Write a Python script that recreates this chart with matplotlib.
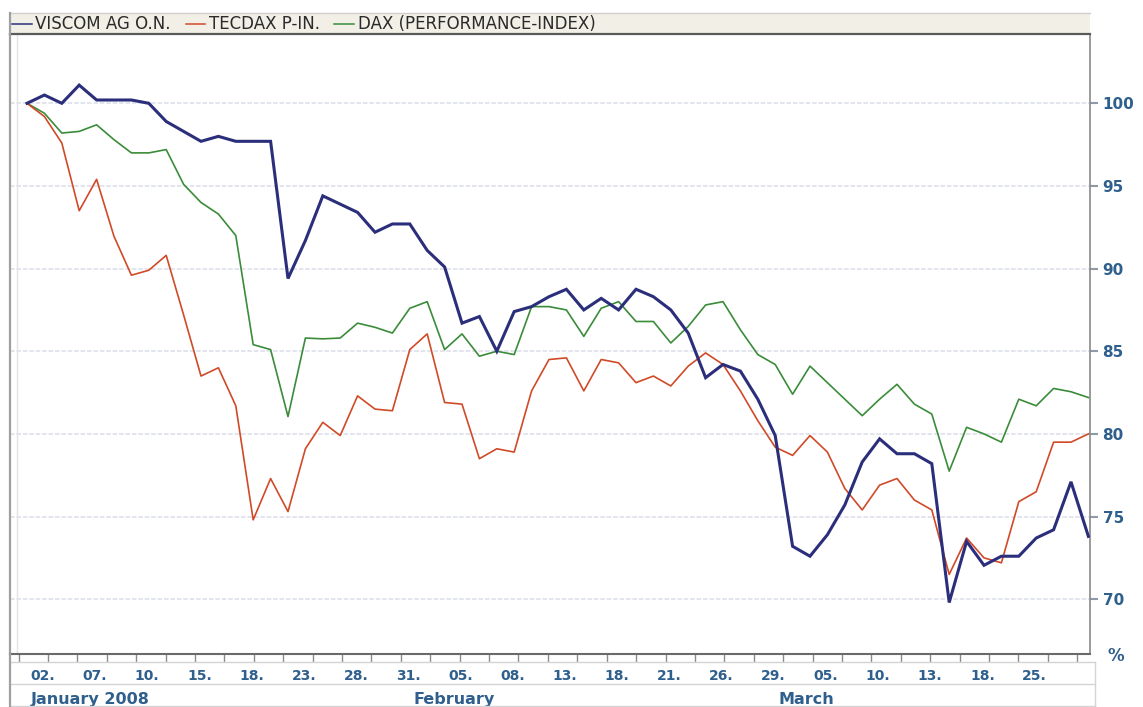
import numpy as np
import matplotlib
matplotlib.use("Agg")
import matplotlib.pyplot as plt
from matplotlib.lines import Line2D
from matplotlib.patches import Rectangle
import matplotlib.transforms as mtransforms

# ---------------- data (indexed by trading day, 02.01.2008 .. 31.03.2008) ----------------
viscom = [100.0, 100.5, 100.0, 101.1, 100.2, 100.2, 100.2, 100.0, 98.9, 98.3,
          97.7, 98.0, 97.7, 97.7, 97.7, 89.4, 91.7, 94.4, 93.9, 93.4,
          92.2, 92.7, 92.7, 91.1, 90.1, 86.7, 87.1, 85.0, 87.4, 87.7,
          88.3, 88.75, 87.5, 88.2, 87.5, 88.75, 88.3, 87.5, 86.1, 83.4,
          84.2, 83.8, 82.1, 79.9, 73.2, 72.6, 73.9, 75.7, 78.3, 79.7,
          78.8, 78.8, 78.2, 69.8, 73.5, 72.05, 72.6, 72.6, 73.7, 74.2,
          77.1, 73.8]
tecdax = [100.0, 99.2, 97.6, 93.5, 95.4, 91.95, 89.6, 89.9, 90.8, 87.2,
          83.5, 84.0, 81.7, 74.8, 77.3, 75.3, 79.1, 80.7, 79.9, 82.3,
          81.5, 81.4, 85.1, 86.05, 81.9, 81.8, 78.5, 79.1, 78.9, 82.6,
          84.5, 84.6, 82.6, 84.5, 84.3, 83.1, 83.5, 82.9, 84.1, 84.9,
          84.2, 82.6, 80.8, 79.2, 78.7, 79.9, 78.9, 76.7, 75.4, 76.9,
          77.3, 76.0, 75.4, 71.5, 73.7, 72.5, 72.2, 75.9, 76.5, 79.5,
          79.5, 80.0]
dax = [100.0, 99.4, 98.2, 98.3, 98.7, 97.8, 97.0, 97.0, 97.2, 95.1,
       94.0, 93.3, 92.0, 85.4, 85.1, 81.05, 85.8, 85.75, 85.8, 86.7,
       86.45, 86.1, 87.6, 88.0, 85.1, 86.05, 84.7, 85.0, 84.8, 87.7,
       87.7, 87.5, 85.9, 87.6, 88.0, 86.8, 86.8, 85.5, 86.5, 87.8,
       88.0, 86.3, 84.8, 84.2, 82.4, 84.1, 83.1, 82.1, 81.1, 82.1,
       83.0, 81.8, 81.2, 77.75, 80.4, 80.0, 79.5, 82.1, 81.7, 82.75,
       82.55, 82.2]

series_names = ["VISCOM AG O.N.", "TECDAX P-IN.", "DAX (PERFORMANCE-INDEX)"]
series_colors = ["#2b2e7a", "#d04a28", "#3a8c3a"]

day_labels = ["02.", "07.", "10.", "15.", "18.", "23.", "28.", "31.", "05.", "08.",
              "13.", "18.", "21.", "26.", "29.", "05.", "10.", "13.", "18.", "25."]
day_label_idx = [0, 3, 6, 9, 12, 15, 18, 21, 24, 27,
                 30, 33, 36, 39, 42, 45, 48, 51, 54, 57]
month_labels = ["January 2008", "February", "March"]
month_idx = [0, 22, 43]
y_ticks = [70, 75, 80, 85, 90, 95, 100]

# ---------------- figure ----------------
W, H = 1143, 707
fig = plt.figure(figsize=(W / 100, H / 100), dpi=100)
fig.patch.set_facecolor("white")

def fx(px):
    return px / W

def fy(py):
    return 1 - py / H

ax_l, ax_r, ax_t, ax_b = 10, 1090, 34, 654
ax = fig.add_axes([fx(ax_l), fy(ax_b), fx(ax_r) - fx(ax_l), fy(ax_t) - fy(ax_b)])

# pixel mapping of data: x = 27 + 17.4*i ; y(100)=103.3, 16.53 px per unit
x0_px, dx_px = 27.0, 17.4
y100_px, dy_px = 103.3, 16.53
ax.set_xlim((ax_l - x0_px) / dx_px, (ax_r - x0_px) / dx_px)
ax.set_ylim(100 - (ax_b - y100_px) / dy_px, 100 + (y100_px - ax_t) / dy_px)

x = np.arange(len(viscom))

# grid
for v in y_ticks:
    ax.axhline(v, color="#dadeea", lw=1.1, ls=(0, (3, 1.2)), zorder=1)
# faint inner vertical line near left edge
ax.axvline((17.3 - x0_px) / dx_px, color="#e2e2e8", lw=1.0, zorder=1)

ax.plot(x, dax, color=series_colors[2], lw=1.2, zorder=3)
ax.plot(x, tecdax, color=series_colors[1], lw=1.2, zorder=3)
ax.plot(x, viscom, color=series_colors[0], lw=2.2, zorder=4, solid_joinstyle="miter")

# spines
ax.spines["top"].set_visible(False)
ax.spines["left"].set_color("#a0a0a0")
ax.spines["left"].set_linewidth(1.6)
ax.spines["right"].set_color("#8a8a8a")
ax.spines["right"].set_linewidth(1.2)
ax.spines["bottom"].set_color("#6a6a6a")
ax.spines["bottom"].set_linewidth(1.5)

# right y axis
lab_color = "#2f5f8c"
ax.yaxis.tick_right()
ax.set_yticks(y_ticks)
ax.set_yticklabels([str(v) for v in y_ticks], fontsize=11, fontweight="bold",
                   color=lab_color)
ax.tick_params(axis="y", which="major", direction="out", length=6, width=1.5,
               color="#8f9aa8", pad=3)

# bottom x ticks (minor tick grid) and labels drawn as text
tick_start = (18.5 - x0_px) / dx_px
tick_step = 29.41 / dx_px
ax.set_xticks([])
ax.set_xticks(tick_start + tick_step * np.arange(37), minor=True)
ax.tick_params(axis="x", which="minor", direction="out", length=6, width=1.0,
               color="#8a8a8a")
ax.tick_params(axis="x", which="major", length=0)

trans = mtransforms.blended_transform_factory(ax.transData, fig.transFigure)
off = mtransforms.ScaledTranslation(3.5 / 100, 0, fig.dpi_scale_trans)
for lab, i in zip(day_labels, day_label_idx):
    ax.text(i, fy(676), lab, transform=trans + off, ha="left", va="center",
            fontsize=10, fontweight="bold", color=lab_color, clip_on=False)
for lab, i in zip(month_labels, month_idx):
    ax.text(i, fy(699.5), lab, transform=trans + off, ha="left", va="center",
            fontsize=11.5, fontweight="bold", color=lab_color, clip_on=False)

# label-row box lines
for yy in [662, 683.5, 706]:
    fig.add_artist(Line2D([fx(10), fx(1095)], [fy(yy), fy(yy)], color="#d4d4d4", lw=1.0))
fig.add_artist(Line2D([fx(1095), fx(1095)], [fy(662), fy(706)], color="#d4d4d4", lw=1.0))
fig.add_artist(Line2D([fx(10), fx(10)], [fy(654), fy(707)], color="#a0a0a0", lw=1.6))

fig.text(fx(1116), fy(656), "%", ha="center", va="center", fontsize=12,
         fontweight="bold", color=lab_color)

# legend bar
fig.add_artist(Rectangle((fx(10), fy(34)), fx(1090) - fx(10), fy(13) - fy(34),
                         facecolor="#f1efe6", edgecolor="none"))
fig.add_artist(Line2D([fx(10), fx(1090)], [fy(13), fy(13)], color="#cfcfcf", lw=1.0))
fig.add_artist(Line2D([fx(10), fx(1090)], [fy(34), fy(34)], color="#5a5a5a", lw=1.6))
fig.add_artist(Line2D([fx(10), fx(10)], [fy(13), fy(34)], color="#a0a0a0", lw=1.6))

leg_seg = [(12, 32), (186, 205), (334, 354)]
leg_txt = [35, 209, 358]
for name, col, (a, b), t in zip(series_names, series_colors, leg_seg, leg_txt):
    fig.add_artist(Line2D([fx(a), fx(b)], [fy(23.5), fy(23.5)], color=col, lw=1.1))
    fig.text(fx(t), fy(24), name, ha="left", va="center", fontsize=12,
             fontweight="medium", color="#2a2a2a")

fig.savefig("out.png", dpi=100, facecolor="white")
